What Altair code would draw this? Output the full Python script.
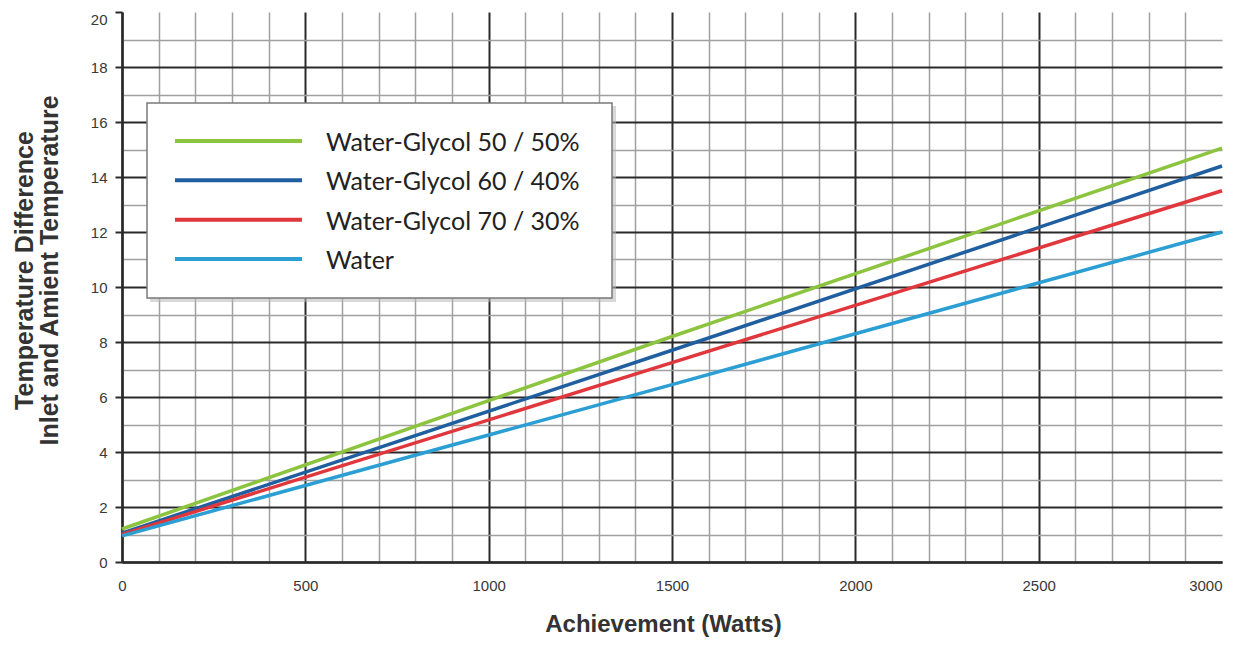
import altair as alt
import pandas as pd

# ---- data ----
series = ["Water-Glycol 50 / 50%", "Water-Glycol 60 / 40%", "Water-Glycol 70 / 30%", "Water"]
colors = ["#8cc43f", "#1f5e9f", "#e0373d", "#2b9fd3"]
watts = [0, 1500, 3000]
glycol_50 = [1.2, 8.2, 15.05]
glycol_60 = [1.05, 7.7, 14.4]
glycol_70 = [1.0, 7.25, 13.5]
water = [0.95, 6.45, 12.0]
x_ticks = list(range(0, 3001, 100))
y_ticks = list(range(0, 21))

rows = []
for name, vals in zip(series, [glycol_50, glycol_60, glycol_70, water]):
    for w, v in zip(watts, vals):
        rows.append({"series": name, "watts": w, "temp": v})
df = pd.DataFrame(rows)
leg_df = pd.DataFrame({"series": series})

TITLE_FONT = "Liberation Sans"
LABEL_FONT = "Liberation Sans"
LEGEND_FONT = "Lato"
DARK = "#2a2a2a"
LIGHT = "#a0a0a0"

color_scale = alt.Scale(domain=series, range=colors)

x_axis = alt.Axis(
    values=x_ticks,
    format="d",
    labelExpr="datum.value % 500 === 0 ? datum.label : ''",
    labelOverlap=False,
    labelFlush=False,
    labelAlign={"condition": {"test": "datum.value === 3000", "value": "right"}, "value": "center"},
    labelFont=LABEL_FONT,
    labelFontSize=15,
    labelColor="#383838",
    labelPadding=16,
    ticks=False,
    domainColor=DARK,
    domainWidth=2.5,
    gridColor={"condition": {"test": "datum.value % 500 === 0", "value": DARK}, "value": LIGHT},
    gridWidth={"condition": {"test": "datum.value % 500 === 0", "value": 2}, "value": 1.5},
    gridOpacity={"condition": {"test": "datum.value === 3000", "value": 0}, "value": 1},
    title="Achievement (Watts)",
    titleFont=TITLE_FONT,
    titleFontSize=24,
    titleFontWeight="bold",
    titleColor="#333333",
    titleX=541,
    titleY=69,
    titleAlign="center",
    titleBaseline="alphabetic",
)

y_axis = alt.Axis(
    values=y_ticks,
    format="d",
    labelExpr="datum.value % 2 === 0 ? datum.label : ''",
    labelOverlap=False,
    labelFlush=False,
    labelBaseline={"condition": {"test": "datum.value === 20", "value": "top"}, "value": "middle"},
    labelFont=LABEL_FONT,
    labelFontSize=15,
    labelColor="#383838",
    labelPadding=8,
    tickSize=7,
    tickWidth=2,
    tickColor=DARK,
    tickOpacity={"condition": {"test": "datum.value % 2 === 0", "value": 1}, "value": 0},
    domainColor=DARK,
    domainWidth=2.5,
    gridColor={"condition": {"test": "datum.value % 2 === 0", "value": DARK}, "value": LIGHT},
    gridWidth={"condition": {"test": "datum.value % 2 === 0", "value": 2}, "value": 1.5},
    gridOpacity={"condition": {"test": "datum.value === 20", "value": 0}, "value": 1},
    title=["Temperature Difference", "Inlet and Amient Temperature"],
    titleFont=TITLE_FONT,
    titleFontSize=25,
    titleFontWeight="bold",
    titleColor="#333333",
    titleLineHeight=25,
    titleAngle=270,
    titleX=-85,
    titleY=258,
    titleAlign="center",
    titleBaseline="bottom",
)

lines = alt.Chart(df).mark_line(strokeWidth=3.5).encode(
    x=alt.X("watts:Q", scale=alt.Scale(domain=[0, 3000], nice=False), axis=x_axis),
    y=alt.Y("temp:Q", scale=alt.Scale(domain=[0, 20], nice=False), axis=y_axis),
    color=alt.Color("series:N", scale=color_scale, legend=None),
)

shadow = alt.Chart(pd.DataFrame({"b": [0]})).mark_rect(
    fill="#b8b8b8", opacity=0.55
).encode(
    x=alt.value(28), x2=alt.value(494), y=alt.value(94), y2=alt.value(290)
)

box = alt.Chart(pd.DataFrame({"b": [0]})).mark_rect(
    fill="white", stroke="#7a7a7a", strokeWidth=1.5
).encode(
    x=alt.value(25), x2=alt.value(490), y=alt.value(91), y2=alt.value(286)
)

leg_y = alt.Y(
    "series:N",
    scale=alt.Scale(type="point", domain=series, range=[129, 247], padding=0),
    axis=None,
)

leg_rules = alt.Chart(leg_df).mark_rule(strokeWidth=4).encode(
    x=alt.value(53),
    x2=alt.value(180),
    y=leg_y,
    color=alt.Color("series:N", scale=color_scale, legend=None),
)

leg_text = alt.Chart(leg_df).mark_text(
    align="left", baseline="middle", font=LEGEND_FONT, fontSize=25, color="#222222", dy=2
).encode(
    x=alt.value(204),
    y=leg_y,
    text="series:N",
)

chart = (
    alt.layer(lines, shadow, box, leg_rules, leg_text)
    .resolve_scale(y="independent")
    .properties(
        width=1100,
        height=550,
        autosize=alt.AutoSizeParams(type="none"),
        padding={"left": 114, "top": 4, "right": 7, "bottom": 77},
        background="white",
    )
    .configure_view(stroke=None)
)

chart.save("out.html", embed_options={"renderer": "svg", "actions": False})
